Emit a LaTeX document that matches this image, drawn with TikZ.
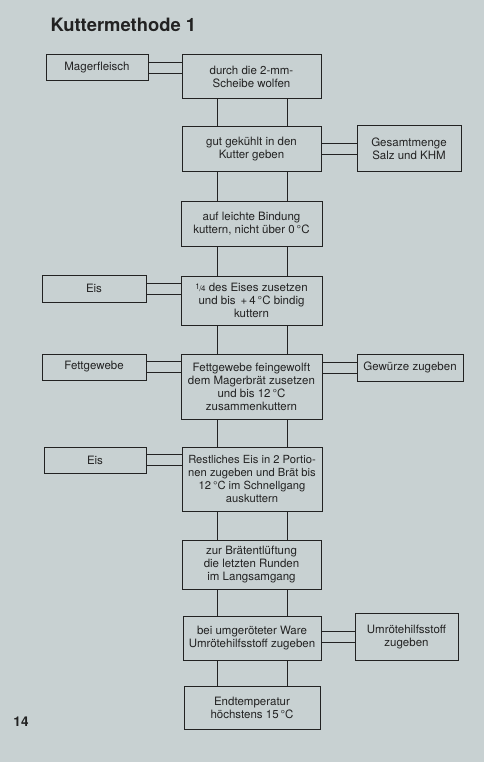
\documentclass[tikz,border=0pt]{standalone}
\usepackage{fontspec}
\setmainfont{TeX Gyre Heros}
\definecolor{paper}{HTML}{C8D1D2}
\definecolor{ink}{HTML}{222222}
\begin{document}
\begin{tikzpicture}[x=1pt,y=-1pt,
  box/.style={draw=ink, line width=1pt, align=center, inner sep=0pt,
    font=\fontsize{11.5}{13}\selectfont, text=ink},
  link/.style={draw=ink, line width=1pt}]
\fill[paper] (0,0) rectangle (484,762);
\useasboundingbox (0,0) rectangle (484,762);
\node[anchor=base west, font=\fontsize{18.4}{20}\selectfont\bfseries, text=ink] (title) at (47,32) {Kuttermethode 1};
\node[anchor=base, font=\fontsize{13.5}{15}\selectfont\bfseries, text=ink] (page) at (21,726) {14};
% main column
\node[box, minimum width=139pt, minimum height=44pt] (m1) at (251.5,77) {durch die 2-mm-\\Scheibe wolfen};
\node[box, minimum width=139pt, minimum height=45pt] (m2) at (251.5,149.5) {gut gekühlt in den\\Kutter geben};
\node[box, minimum width=141pt, minimum height=45pt] (m3) at (251.5,223.5) {auf leichte Bindung\\kuttern, nicht über 0\,°C};
\node[box, minimum width=141pt, minimum height=49pt] (m4) at (251.5,300.5) {{\fontsize{8}{8}\selectfont\raisebox{0.45ex}{1}\kern-0.05em/\kern-0.05em4} des Eises zusetzen\\und bis \,+\,4\,°C bindig\\kuttern};
\node[box, minimum width=141pt, minimum height=65pt] (m5) at (251.5,386.5) {Fettgewebe feingewolft\\dem Magerbrät zusetzen\\und bis 12\,°C\\zusammenkuttern};
\node[box, minimum width=140pt, minimum height=64pt, font=\fontsize{11.2}{13}\selectfont] (m6) at (252,479) {Restliches Eis in 2 Portio-\\nen zugeben und Brät bis\\12\,°C im Schnellgang\\auskuttern};
\node[box, minimum width=139pt, minimum height=49pt] (m7) at (251.5,564.5) {zur Brätentlüftung\\die letzten Runden\\im Langsamgang};
\node[box, minimum width=138pt, minimum height=44pt] (m8) at (252,638) {bei umgeröteter Ware\\Umrötehilfsstoff zugeben};
\node[box, minimum width=136pt, minimum height=43pt] (m9) at (252,707.5) {Endtemperatur\\höchstens 15\,°C};
% side boxes
\node[box, minimum width=102pt, minimum height=26pt] (s1) at (97,68) {Magerfleisch};
\node[box, minimum width=104pt, minimum height=46pt] (s2) at (409,149) {Gesamtmenge\\Salz und KHM};
\node[box, minimum width=104pt, minimum height=27pt] (s3) at (94,288.5) {Eis};
\node[box, minimum width=104pt, minimum height=26pt] (s4) at (94,367) {Fettgewebe};
\node[box, minimum width=106pt, minimum height=27pt] (s5) at (410,367.5) {Gewürze zugeben};
\node[box, minimum width=102pt, minimum height=26pt] (s6) at (95,460) {Eis};
\node[box, minimum width=103pt, minimum height=47pt] (s7) at (406.5,637) {Umrötehilfsstoff\\zugeben};
% vertical double connectors
\foreach \a/\b in {m1/m2,m2/m3,m3/m4,m4/m5,m5/m6,m6/m7,m7/m8,m8/m9}{
  \draw[link] (217,0 |- \a.south) -- (217,0 |- \b.north);
  \draw[link] (287,0 |- \a.south) -- (287,0 |- \b.north);
}
% horizontal double connectors, left side
\foreach \s/\m in {s1/m1,s3/m4,s4/m5,s6/m6}{
  \draw[link] ([yshift=5.5pt]\s.east) -- ([yshift=5.5pt]\s.east -| \m.west);
  \draw[link] ([yshift=-5.5pt]\s.east) -- ([yshift=-5.5pt]\s.east -| \m.west);
}
% right side
\foreach \s/\m in {s2/m2,s5/m5,s7/m8}{
  \draw[link] ([yshift=5.5pt]\s.west) -- ([yshift=5.5pt]\s.west -| \m.east);
  \draw[link] ([yshift=-5.5pt]\s.west) -- ([yshift=-5.5pt]\s.west -| \m.east);
}
\end{tikzpicture}
\end{document}
